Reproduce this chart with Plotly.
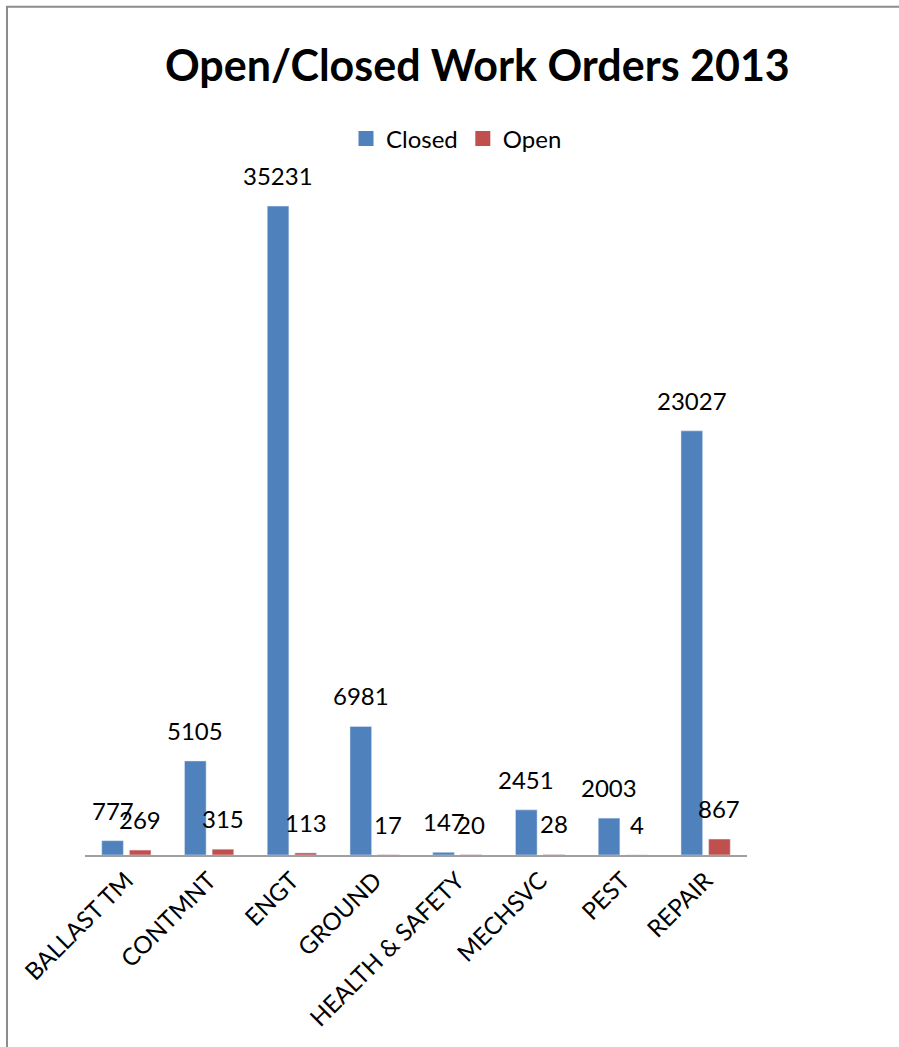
import plotly.graph_objects as go

categories = ["BALLAST TM", "CONTMNT", "ENGT", "GROUND", "HEALTH & SAFETY", "MECHSVC", "PEST", "REPAIR"]
closed = [777, 5105, 35231, 6981, 147, 2451, 2003, 23027]
open_ = [269, 315, 113, 17, 20, 28, 4, 867]

W, H = 899, 1047
ML, MR, MT, MB = 85, 152, 172, 192
FONT = "Lato"
BLUE, RED = "#4F81BD", "#C0504D"
BARGAP, GROUPGAP = 0.332, 0.217

pw = W - ML - MR
ph = H - MT - MB

def px_x(p):
    return (p - ML) / pw

def px_y(p):
    return (H - MB - p) / ph

fig = go.Figure()
fig.add_trace(go.Bar(name="Closed", x=categories, y=closed, marker_color=BLUE, showlegend=False))
fig.add_trace(go.Bar(name="Open", x=categories, y=open_, marker_color=RED, showlegend=False))
# legend entries with square swatches
fig.add_trace(go.Scatter(name="Closed", x=[None], y=[None], mode="markers",
                         marker=dict(symbol="square", size=15, color=BLUE)))
fig.add_trace(go.Scatter(name="Open", x=[None], y=[None], mode="markers",
                         marker=dict(symbol="square", size=15, color=RED)))

# data labels above each bar (offset from category centre by half a bar slot)
cat_px = pw / len(categories)
slot = cat_px * (1 - BARGAP) / 2
annotations = []
for series, sign in ((closed, -1), (open_, 1)):
    for c, v in zip(categories, series):
        annotations.append(dict(x=c, y=v, xref="x", yref="y", text=str(v), showarrow=False,
                                xanchor="center", yanchor="bottom", xshift=sign * slot / 2,
                                yshift=14, font=dict(size=24, color="black", family=FONT)))

fig.update_layout(
    width=W, height=H,
    margin=dict(l=ML, r=MR, t=MT, b=MB),
    paper_bgcolor="white", plot_bgcolor="white",
    barmode="group", bargap=BARGAP, bargroupgap=GROUPGAP,
    title=dict(text="<b>Open/Closed Work Orders 2013</b>", x=0.531, xanchor="center",
               y=1 - 66 / H, yanchor="middle",
               font=dict(size=43, color="black", family=FONT)),
    legend=dict(orientation="h", x=px_x(346), xanchor="left", xref="paper",
                y=1 - 139 / H, yanchor="middle", yref="container",
                font=dict(size=24, color="black", family=FONT),
                itemwidth=30, traceorder="normal"),
    font=dict(family=FONT),
    xaxis=dict(showline=True, linecolor="#A0A0A0", linewidth=2, ticks="",
               tickangle=-45, tickfont=dict(size=24, color="black", family=FONT),
               showgrid=False),
    yaxis=dict(visible=False, range=[0, 37000], showgrid=False, zeroline=False),
    annotations=annotations,
    shapes=[dict(type="rect", xref="paper", yref="paper",
                 x0=px_x(7), x1=px_x(W + 20), y0=px_y(H + 20), y1=px_y(5),
                 line=dict(color="#8C8C8C", width=2), layer="below")],
)

fig.write_html("out.html")
